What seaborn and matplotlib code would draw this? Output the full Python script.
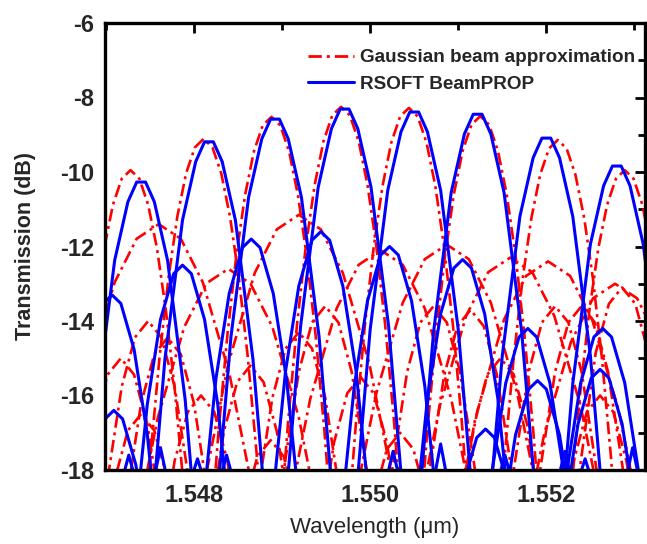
import numpy as np
import pandas as pd
import matplotlib
matplotlib.use("Agg")
import matplotlib.pyplot as plt
from matplotlib.lines import Line2D
from matplotlib.ticker import MultipleLocator, FormatStrFormatter
import seaborn as sns

# ---------------- data ----------------
labels = ["Gaussian beam approximation", "RSOFT BeamPROP"]
x_ticks = [1.548, 1.550, 1.552]
y_ticks = [-6, -8, -10, -12, -14, -16, -18]

# Gaussian beam approximation: main channel lobes
red_main_wl = [
    [1.54658,1.54668,1.54678,1.54688,1.54698,1.54708,1.54718,1.54728,1.54738,1.54748,1.54758,1.54768,1.54778,1.54788,1.54798],
    [1.54741,1.54751,1.54761,1.54771,1.54781,1.54791,1.54801,1.54811,1.54821,1.54831,1.54841,1.54851,1.54861,1.54871,1.54881],
    [1.54818,1.54828,1.54838,1.54848,1.54858,1.54868,1.54878,1.54888,1.54898,1.54908,1.54918,1.54928,1.54938,1.54948,1.54958],
    [1.54897,1.54907,1.54917,1.54927,1.54937,1.54947,1.54957,1.54967,1.54977,1.54987,1.54997,1.55007,1.55017,1.55027,1.55037],
    [1.54974,1.54984,1.54994,1.55004,1.55014,1.55024,1.55034,1.55044,1.55054,1.55064,1.55074,1.55084,1.55094,1.55104,1.55114],
    [1.55055,1.55065,1.55075,1.55085,1.55095,1.55105,1.55115,1.55125,1.55135,1.55145,1.55155,1.55165,1.55175,1.55185,1.55195],
    [1.55143,1.55153,1.55163,1.55173,1.55183,1.55193,1.55203,1.55213,1.55223,1.55233,1.55243,1.55253,1.55263,1.55273,1.55283],
    [1.55219,1.55229,1.55239,1.55249,1.55259,1.55269,1.55279,1.55289,1.55299,1.55309,1.55319,1.55329,1.55339,1.55349,1.55359],
]
red_main_db = [
    [-21.40,-18.36,-15.79,-13.69,-12.05,-10.88,-10.18,-9.95,-10.18,-10.88,-12.05,-13.69,-15.79,-18.36,-21.40],
    [-20.56,-17.52,-14.95,-12.85,-11.21,-10.04,-9.34,-9.11,-9.34,-10.04,-11.21,-12.85,-14.95,-17.52,-20.56],
    [-19.97,-16.93,-14.36,-12.26,-10.62,-9.45,-8.75,-8.52,-8.75,-9.45,-10.62,-12.26,-14.36,-16.93,-19.97],
    [-19.70,-16.66,-14.09,-11.99,-10.35,-9.18,-8.48,-8.25,-8.48,-9.18,-10.35,-11.99,-14.09,-16.66,-19.70],
    [-19.73,-16.69,-14.12,-12.02,-10.38,-9.21,-8.51,-8.28,-8.51,-9.21,-10.38,-12.02,-14.12,-16.69,-19.73],
    [-19.95,-16.91,-14.34,-12.24,-10.60,-9.43,-8.73,-8.50,-8.73,-9.43,-10.60,-12.24,-14.34,-16.91,-19.95],
    [-20.59,-17.55,-14.98,-12.88,-11.24,-10.07,-9.37,-9.14,-9.37,-10.07,-11.24,-12.88,-14.98,-17.55,-20.59],
    [-21.40,-18.36,-15.79,-13.69,-12.05,-10.88,-10.18,-9.95,-10.18,-10.88,-12.05,-13.69,-15.79,-18.36,-21.40],
]

# Gaussian beam approximation: broad crosstalk lobes
red_side_wl = [
    [1.54650,1.54680,1.54710,1.54735,1.54760,1.54785,1.54810,1.54840,1.54870],
    [1.54809,1.54839,1.54869,1.54894,1.54919,1.54944,1.54969,1.54999,1.55029],
    [1.54729,1.54759,1.54789,1.54814,1.54839,1.54864,1.54889,1.54919,1.54949],
    [1.54902,1.54932,1.54962,1.54987,1.55012,1.55037,1.55062,1.55092,1.55122],
    [1.54977,1.55007,1.55037,1.55062,1.55087,1.55112,1.55137,1.55167,1.55197],
    [1.55049,1.55079,1.55109,1.55134,1.55159,1.55184,1.55209,1.55239,1.55269],
    [1.55092,1.55122,1.55152,1.55177,1.55202,1.55227,1.55252,1.55282,1.55312],
    [1.55168,1.55198,1.55228,1.55253,1.55278,1.55303,1.55328,1.55358,1.55388],
]
red_side_db = [
    [-18.93,-15.39,-12.96,-11.79,-11.40,-11.79,-12.96,-15.39,-18.93],
    [-18.68,-15.14,-12.71,-11.54,-11.15,-11.54,-12.71,-15.14,-18.68],
    [-20.13,-16.59,-14.16,-12.99,-12.60,-12.99,-14.16,-16.59,-20.13],
    [-19.63,-16.09,-13.66,-12.49,-12.10,-12.49,-13.66,-16.09,-19.63],
    [-19.48,-15.94,-13.51,-12.34,-11.95,-12.34,-13.51,-15.94,-19.48],
    [-19.83,-16.29,-13.86,-12.69,-12.30,-12.69,-13.86,-16.29,-19.83],
    [-19.93,-16.39,-13.96,-12.79,-12.40,-12.79,-13.96,-16.39,-19.93],
    [-20.53,-16.99,-14.56,-13.39,-13.00,-13.39,-14.56,-16.99,-20.53],
]

# Gaussian beam approximation: low-level lobes
red_low_wl = [
    [1.54698,1.54718,1.54733,1.54748,1.54763,1.54778,1.54798],
    [1.54720,1.54740,1.54755,1.54770,1.54785,1.54800,1.54820],
    [1.54667,1.54687,1.54702,1.54717,1.54732,1.54747,1.54767],
    [1.54869,1.54889,1.54904,1.54919,1.54934,1.54949,1.54969],
    [1.54899,1.54919,1.54934,1.54949,1.54964,1.54979,1.54999],
    [1.54814,1.54834,1.54849,1.54864,1.54879,1.54894,1.54914],
    [1.54758,1.54778,1.54793,1.54808,1.54823,1.54838,1.54858],
    [1.54939,1.54959,1.54974,1.54989,1.55004,1.55019,1.55039],
    [1.55022,1.55042,1.55057,1.55072,1.55087,1.55102,1.55122],
    [1.55064,1.55084,1.55099,1.55114,1.55129,1.55144,1.55164],
    [1.55098,1.55118,1.55133,1.55148,1.55163,1.55178,1.55198],
    [1.55160,1.55180,1.55195,1.55210,1.55225,1.55240,1.55260],
    [1.55190,1.55210,1.55225,1.55240,1.55255,1.55270,1.55290],
    [1.55236,1.55256,1.55271,1.55286,1.55301,1.55316,1.55336],
    [1.55211,1.55231,1.55246,1.55261,1.55276,1.55291,1.55311],
    [1.54690,1.54710,1.54725,1.54740,1.54755,1.54770,1.54790],
    [1.54984,1.55004,1.55019,1.55034,1.55049,1.55064,1.55084],
    [1.54837,1.54857,1.54872,1.54887,1.54902,1.54917,1.54937],
]
red_low_db = [
    [-18.86,-15.76,-14.44,-14.00,-14.44,-15.76,-18.86],
    [-19.31,-16.21,-14.89,-14.45,-14.89,-16.21,-19.31],
    [-19.86,-16.76,-15.44,-15.00,-15.44,-16.76,-19.86],
    [-19.16,-16.06,-14.74,-14.30,-14.74,-16.06,-19.16],
    [-18.46,-15.36,-14.04,-13.60,-14.04,-15.36,-18.46],
    [-20.06,-16.96,-15.64,-15.20,-15.64,-16.96,-20.06],
    [-20.86,-17.76,-16.44,-16.00,-16.44,-17.76,-20.86],
    [-20.36,-17.26,-15.94,-15.50,-15.94,-17.26,-20.36],
    [-18.46,-15.36,-14.04,-13.60,-14.04,-15.36,-18.46],
    [-18.56,-15.46,-14.14,-13.70,-14.14,-15.46,-18.56],
    [-19.86,-16.76,-15.44,-15.00,-15.44,-16.76,-19.86],
    [-18.46,-15.36,-14.04,-13.60,-14.04,-15.36,-18.46],
    [-18.46,-15.36,-14.04,-13.60,-14.04,-15.36,-18.46],
    [-18.30,-14.86,-13.54,-13.10,-13.54,-14.86,-18.30],
    [-20.86,-17.76,-16.44,-16.00,-16.44,-17.76,-20.86],
    [-21.36,-18.26,-16.94,-16.50,-16.94,-18.26,-21.36],
    [-21.86,-18.76,-17.44,-17.00,-17.44,-18.76,-21.86],
    [-22.06,-18.96,-17.64,-17.20,-17.64,-18.96,-22.06],
]

# RSOFT BeamPROP: main channel lobes
blue_main_wl = [
    [1.54670,1.54690,1.54710,1.54725,1.54735,1.54745,1.54755,1.54770,1.54790,1.54810],
    [1.54747,1.54767,1.54787,1.54802,1.54812,1.54822,1.54832,1.54847,1.54867,1.54887],
    [1.54822,1.54842,1.54862,1.54877,1.54887,1.54897,1.54907,1.54922,1.54942,1.54962],
    [1.54901,1.54921,1.54941,1.54956,1.54966,1.54976,1.54986,1.55001,1.55021,1.55041],
    [1.54980,1.55000,1.55020,1.55035,1.55045,1.55055,1.55065,1.55080,1.55100,1.55120],
    [1.55052,1.55072,1.55092,1.55107,1.55117,1.55127,1.55137,1.55152,1.55172,1.55192],
    [1.55130,1.55150,1.55170,1.55185,1.55195,1.55205,1.55215,1.55230,1.55250,1.55270],
    [1.55210,1.55230,1.55250,1.55265,1.55275,1.55285,1.55295,1.55310,1.55330,1.55350],
]
blue_main_db = [
    [-21.72,-16.11,-12.37,-10.80,-10.27,-10.27,-10.80,-12.37,-16.11,-21.72],
    [-20.64,-15.03,-11.29,-9.72,-9.19,-9.19,-9.72,-11.29,-15.03,-20.64],
    [-20.03,-14.42,-10.68,-9.11,-8.58,-8.58,-9.11,-10.68,-14.42,-20.03],
    [-19.76,-14.15,-10.41,-8.84,-8.31,-8.31,-8.84,-10.41,-14.15,-19.76],
    [-19.84,-14.23,-10.49,-8.92,-8.39,-8.39,-8.92,-10.49,-14.23,-19.84],
    [-19.90,-14.29,-10.55,-8.98,-8.45,-8.45,-8.98,-10.55,-14.29,-19.90],
    [-20.54,-14.93,-11.19,-9.62,-9.09,-9.09,-9.62,-11.19,-14.93,-20.54],
    [-21.29,-15.68,-11.94,-10.37,-9.84,-9.84,-10.37,-11.94,-15.68,-21.29],
]

# RSOFT BeamPROP: crosstalk lobes
blue_side_wl = [
    [1.54647,1.54667,1.54682,1.54697,1.54707,1.54717,1.54732,1.54747,1.54767],
    [1.54727,1.54747,1.54762,1.54777,1.54787,1.54797,1.54812,1.54827,1.54847],
    [1.54805,1.54825,1.54840,1.54855,1.54865,1.54875,1.54890,1.54905,1.54925],
    [1.54884,1.54904,1.54919,1.54934,1.54944,1.54954,1.54969,1.54984,1.55004],
    [1.54962,1.54982,1.54997,1.55012,1.55022,1.55032,1.55047,1.55062,1.55082],
    [1.55045,1.55065,1.55080,1.55095,1.55105,1.55115,1.55130,1.55145,1.55165],
    [1.55119,1.55139,1.55154,1.55169,1.55179,1.55189,1.55204,1.55219,1.55239],
    [1.55204,1.55224,1.55239,1.55254,1.55264,1.55274,1.55289,1.55304,1.55324],
    [1.55201,1.55221,1.55236,1.55251,1.55261,1.55271,1.55286,1.55301,1.55321],
    [1.55130,1.55150,1.55165,1.55180,1.55190,1.55200,1.55215,1.55230,1.55250],
    [1.54649,1.54669,1.54684,1.54699,1.54709,1.54719,1.54734,1.54749,1.54769],
    [1.55071,1.55091,1.55106,1.55121,1.55131,1.55141,1.55156,1.55171,1.55191],
]
blue_side_db = [
    [-21.71,-17.04,-14.76,-13.53,-13.30,-13.53,-14.76,-17.04,-21.71],
    [-20.91,-16.24,-13.96,-12.73,-12.50,-12.73,-13.96,-16.24,-20.91],
    [-20.21,-15.54,-13.26,-12.03,-11.80,-12.03,-13.26,-15.54,-20.21],
    [-20.01,-15.34,-13.06,-11.83,-11.60,-11.83,-13.06,-15.34,-20.01],
    [-20.41,-15.74,-13.46,-12.23,-12.00,-12.23,-13.46,-15.74,-20.41],
    [-20.76,-16.09,-13.81,-12.58,-12.35,-12.58,-13.81,-16.09,-20.76],
    [-22.61,-17.94,-15.66,-14.43,-14.20,-14.43,-15.66,-17.94,-22.61],
    [-22.61,-17.94,-15.66,-14.43,-14.20,-14.43,-15.66,-17.94,-22.61],
    [-23.71,-19.04,-16.76,-15.53,-15.30,-15.53,-16.76,-19.04,-23.71],
    [-24.01,-19.34,-17.06,-15.83,-15.60,-15.83,-17.06,-19.34,-24.01],
    [-24.81,-20.14,-17.86,-16.63,-16.40,-16.63,-17.86,-20.14,-24.81],
    [-25.31,-20.64,-18.36,-17.13,-16.90,-17.13,-18.36,-20.64,-25.31],
]

# RSOFT BeamPROP: small ripples at the floor
blue_floor_wl = [
    [1.54718,1.54726,1.54734],
    [1.54754,1.54762,1.54770],
    [1.54796,1.54804,1.54812],
    [1.54829,1.54837,1.54845],
    [1.55018,1.55026,1.55034],
    [1.55072,1.55080,1.55088],
    [1.55145,1.55153,1.55161],
    [1.55213,1.55221,1.55229],
    [1.55236,1.55244,1.55252],
    [1.55290,1.55298,1.55306],
]
blue_floor_db = [
    [-18.3,-17.6,-18.3],
    [-18.3,-17.4,-18.3],
    [-18.3,-17.7,-18.3],
    [-18.3,-17.6,-18.3],
    [-18.3,-17.5,-18.3],
    [-18.3,-17.3,-18.3],
    [-18.3,-17.6,-18.3],
    [-18.3,-17.5,-18.3],
    [-18.3,-17.7,-18.3],
    [-18.3,-17.4,-18.3],
]

# ---------------- build tidy table ----------------
def to_frame(wl_groups, db_groups, source, prefix):
    rows = []
    for i, (ws, ds) in enumerate(zip(wl_groups, db_groups)):
        for w, d in zip(ws, ds):
            rows.append({"wl": w, "db": d, "curve": f"{prefix}{i}", "source": source})
    return pd.DataFrame(rows)

red_df = pd.concat([
    to_frame(red_low_wl, red_low_db, labels[0], "rl"),
    to_frame(red_side_wl, red_side_db, labels[0], "rs"),
    to_frame(red_main_wl, red_main_db, labels[0], "rm"),
], ignore_index=True)
blue_df = pd.concat([
    to_frame(blue_floor_wl, blue_floor_db, labels[1], "bf"),
    to_frame(blue_side_wl, blue_side_db, labels[1], "bs"),
    to_frame(blue_main_wl, blue_main_db, labels[1], "bm"),
], ignore_index=True)

# ---------------- plot ----------------
sns.set_style("white")
plt.rcParams["font.family"] = ["Liberation Sans", "DejaVu Sans"]
plt.rcParams["axes.unicode_minus"] = False

fig = plt.figure(figsize=(6.47, 5.44), dpi=100)
ax = fig.add_axes([105 / 647, 74 / 544, 540 / 647, 447 / 544])

red_dash = (4.8, 1.8, 1.1, 1.8)
sns.lineplot(data=red_df, x="wl", y="db", units="curve", estimator=None,
             sort=False, color="#ff0000", linewidth=1.9, ax=ax, legend=False)
for ln in ax.lines:
    ln.set_dashes(red_dash)
sns.lineplot(data=blue_df, x="wl", y="db", units="curve", estimator=None,
             sort=False, color="#0000ff", linewidth=2.2, ax=ax, legend=False)

ax.set_xlim(1.54699, 1.55312)
ax.set_ylim(-18, -6)
ax.xaxis.set_major_locator(matplotlib.ticker.FixedLocator(x_ticks))
ax.xaxis.set_minor_locator(MultipleLocator(0.001))
ax.xaxis.set_major_formatter(FormatStrFormatter("%.3f"))
ax.yaxis.set_major_locator(matplotlib.ticker.FixedLocator(y_ticks))
ax.yaxis.set_minor_locator(MultipleLocator(1))
ax.yaxis.set_major_formatter(FormatStrFormatter("%d"))

ax.tick_params(which="both", direction="in", top=True, right=True,
               width=2.0, color="black")
ax.tick_params(which="major", length=7)
ax.tick_params(which="minor", length=5)
ax.tick_params(axis="x", which="major", pad=10, labelsize=17)
ax.tick_params(axis="y", which="major", pad=8, labelsize=17)
for lab in ax.get_xticklabels() + ax.get_yticklabels():
    lab.set_fontweight("bold")
for sp in ax.spines.values():
    sp.set_linewidth(2.4)
    sp.set_color("black")

ax.set_xlabel("Wavelength (\u03bcm)", fontsize=16, labelpad=7)
ax.set_ylabel("Transmission (dB)", fontsize=15.5, fontweight="bold", labelpad=17)

handles = [
    Line2D([], [], color="#ff0000", linewidth=2.0, dashes=red_dash),
    Line2D([], [], color="#0000ff", linewidth=2.2),
]
ax.legend(handles, labels, loc="upper left", bbox_to_anchor=(0.376, 0.942),
          frameon=False, borderpad=0, borderaxespad=0, handlelength=2.45,
          handletextpad=0.3, labelspacing=0.5,
          prop={"weight": "bold", "size": 13.6})

fig.savefig("out.png", dpi=100)
